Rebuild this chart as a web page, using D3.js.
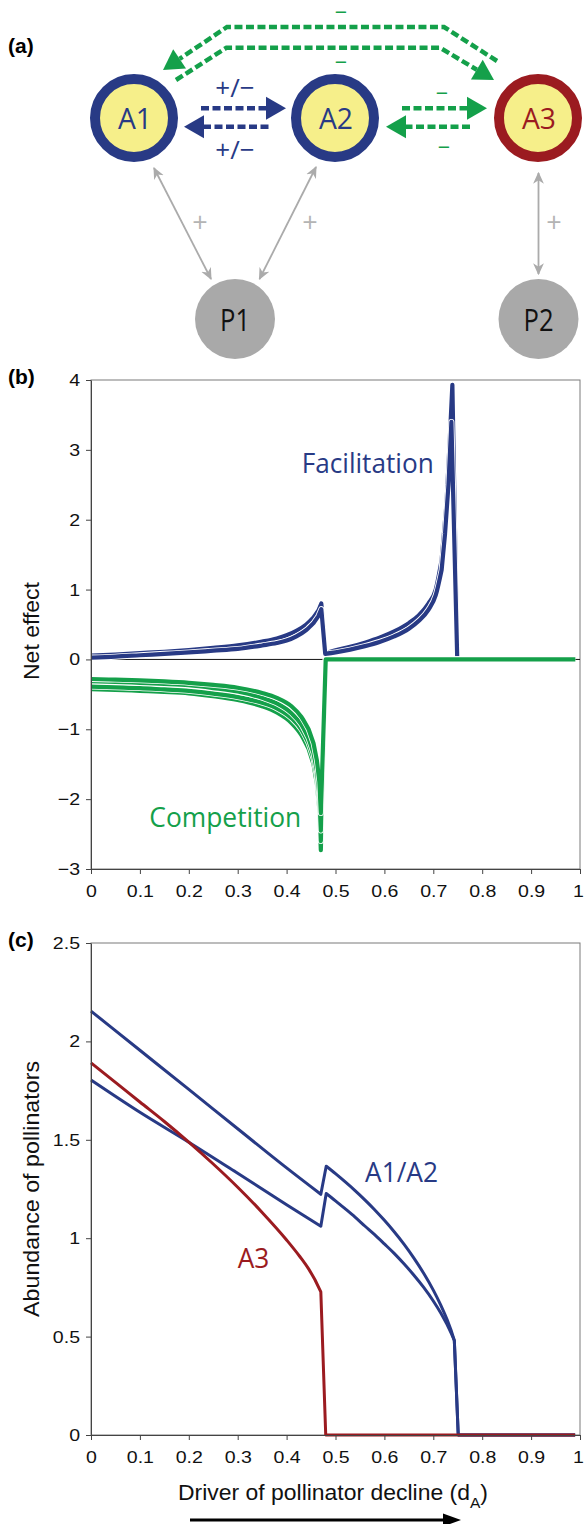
<!DOCTYPE html>
<html>
<head>
<meta charset="utf-8">
<script src="https://cdn.jsdelivr.net/npm/d3@7"></script>
<style>
  body { margin: 0; background: #fff; }
  svg { display: block; }
</style>
</head>
<body>
<svg id="chart" width="584" height="1524"></svg>
<script>
// ---- Data ----
const xTickValues = [0, 0.1, 0.2, 0.3, 0.4, 0.5, 0.6, 0.7, 0.8, 0.9, 1];
const netTickValues = [-3, -2, -1, 0, 1, 2, 3, 4];
const abundanceTickValues = [0, 0.5, 1, 1.5, 2, 2.5];

// (b) facilitation, two curves [dA, net effect]
const facilitationUpper = [[0,0.056],[0.05,0.07],[0.1,0.09],[0.15,0.11],[0.2,0.135],[0.25,0.165],[0.3,0.2],[0.35,0.255],[0.38,0.3],[0.4,0.345],[0.42,0.41],[0.44,0.5],[0.455,0.6],[0.465,0.7],[0.471,0.8],[0.479,0.09],[0.5,0.13],[0.53,0.18],[0.56,0.24],[0.59,0.31],[0.62,0.4],[0.65,0.52],[0.67,0.63],[0.69,0.8],[0.705,1.0],[0.717,1.42],[0.727,2.23],[0.734,3.19],[0.739,3.93],[0.749,0]];
const facilitationLower = [[0,0.027],[0.05,0.04],[0.1,0.06],[0.15,0.08],[0.2,0.1],[0.25,0.125],[0.3,0.15],[0.35,0.2],[0.38,0.235],[0.4,0.27],[0.42,0.33],[0.44,0.42],[0.455,0.52],[0.465,0.62],[0.471,0.72],[0.479,0.08],[0.5,0.1],[0.53,0.14],[0.56,0.19],[0.59,0.25],[0.62,0.33],[0.65,0.44],[0.67,0.55],[0.69,0.71],[0.705,0.92],[0.717,1.28],[0.724,1.8],[0.731,2.5],[0.737,3.4],[0.749,0]];

// (b) competition, four curves
const competition1 = [[0,-0.28],[0.05,-0.29],[0.1,-0.3],[0.15,-0.315],[0.2,-0.335],[0.25,-0.365],[0.3,-0.405],[0.35,-0.48],[0.38,-0.55],[0.41,-0.67],[0.43,-0.82],[0.445,-1.0],[0.455,-1.2],[0.462,-1.45],[0.467,-1.75],[0.47,-2.2],[0.48,0],[0.99,0]];
const competition2 = [[0,-0.31],[0.05,-0.32],[0.1,-0.335],[0.15,-0.35],[0.2,-0.37],[0.25,-0.41],[0.3,-0.46],[0.35,-0.55],[0.38,-0.63],[0.41,-0.77],[0.43,-0.93],[0.445,-1.13],[0.455,-1.34],[0.462,-1.6],[0.467,-1.95],[0.47,-2.45],[0.48,0],[0.99,0]];
const competition3 = [[0,-0.39],[0.05,-0.4],[0.1,-0.41],[0.15,-0.43],[0.2,-0.45],[0.25,-0.49],[0.3,-0.54],[0.35,-0.62],[0.38,-0.7],[0.41,-0.84],[0.43,-1.0],[0.445,-1.2],[0.455,-1.42],[0.462,-1.68],[0.467,-2.05],[0.47,-2.6],[0.48,0],[0.99,0]];
const competition4 = [[0,-0.425],[0.05,-0.435],[0.1,-0.45],[0.15,-0.465],[0.2,-0.485],[0.25,-0.525],[0.3,-0.58],[0.35,-0.67],[0.38,-0.76],[0.41,-0.91],[0.43,-1.08],[0.445,-1.28],[0.455,-1.5],[0.462,-1.78],[0.467,-2.15],[0.47,-2.73],[0.48,0],[0.99,0]];

// (c) pollinator abundance
const abundanceA1 = [[0,2.154],[0.1,1.955],[0.2,1.756],[0.3,1.556],[0.4,1.357],[0.47,1.223],[0.481,1.366],[0.5,1.328],[0.52,1.286],[0.54,1.242],[0.56,1.195],[0.58,1.145],[0.6,1.091],[0.62,1.033],[0.64,0.97],[0.66,0.9],[0.68,0.823],[0.7,0.736],[0.715,0.661],[0.728,0.588],[0.737,0.528],[0.743,0.48],[0.751,0],[0.99,0]];
const abundanceA2 = [[0,1.804],[0.1,1.64],[0.2,1.488],[0.3,1.33],[0.4,1.17],[0.47,1.061],[0.481,1.227],[0.5,1.19],[0.52,1.149],[0.54,1.107],[0.56,1.062],[0.58,1.018],[0.6,0.971],[0.62,0.923],[0.64,0.87],[0.66,0.813],[0.68,0.751],[0.7,0.681],[0.715,0.621],[0.728,0.562],[0.737,0.515],[0.743,0.48],[0.751,0],[0.99,0]];
const abundanceA3 = [[0,1.891],[0.05,1.792],[0.1,1.692],[0.15,1.593],[0.2,1.488],[0.25,1.377],[0.3,1.259],[0.35,1.131],[0.4,0.991],[0.427,0.907],[0.445,0.844],[0.458,0.789],[0.47,0.727],[0.48,0],[0.99,0]];

// ---- Styles ----
const BLUE = '#283a85', GREEN = '#14a04a', RED = '#9b1b20', GREY = '#ababab', YELLOW = '#f6ef8a';
const sans = '"Liberation Sans", Arial, Helvetica, sans-serif';
const myriad = '"Open Sans", "Noto Sans", sans-serif';
const svg = d3.select('#chart');

// ---- Panel (a): interaction diagram ----
const diag = svg.append('g');

const defs = svg.append('defs');
defs.append('marker')
  .attr('id', 'greyHead')
  .attr('viewBox', '0 0 10 10')
  .attr('refX', 9).attr('refY', 5)
  .attr('markerWidth', 12).attr('markerHeight', 12)
  .attr('markerUnits', 'userSpaceOnUse')
  .attr('orient', 'auto-start-reverse')
  .append('path').attr('d', 'M0,0.5 L10,5 L0,9.5 L3,5 Z').attr('fill', GREY);

function dashedArrow(g, pts, color) {
  const n = pts.length, tip = pts[n - 1], prev = pts[n - 2];
  const dx = tip[0] - prev[0], dy = tip[1] - prev[1], len = Math.hypot(dx, dy);
  const ux = dx / len, uy = dy / len, hl = 20, hw = 11.5;
  const base = [tip[0] - ux * hl, tip[1] - uy * hl];
  g.append('path')
    .attr('d', d3.line()(pts.slice(0, n - 1).concat([base])))
    .attr('fill', 'none').attr('stroke', color)
    .attr('stroke-width', 4.5).attr('stroke-dasharray', '8,3.5');
  g.append('path')
    .attr('d', d3.line()([tip, [base[0] - uy * hw, base[1] + ux * hw], [base[0] + uy * hw, base[1] - ux * hw]]) + 'Z')
    .attr('fill', color);
}

// green long arrows between A1 and A3
dashedArrow(diag, [[497, 61], [444, 27], [227, 27], [163, 70]], GREEN);
dashedArrow(diag, [[176, 80], [226.5, 47.7], [440, 47.7], [494, 80]], GREEN);
// A1 <-> A2
dashedArrow(diag, [[201, 108.3], [286, 108.3]], BLUE);
dashedArrow(diag, [[268.5, 126.7], [184, 126.7]], BLUE);
// A2 <-> A3
dashedArrow(diag, [[402, 108.3], [487, 108.3]], GREEN);
dashedArrow(diag, [[470, 126.7], [386, 126.7]], GREEN);

// grey mutualism links
const links = [[[154, 168], [211, 279]], [[316, 167], [259.5, 279]], [[538.5, 173], [538.5, 274]]];
links.forEach(l => {
  diag.append('line')
    .attr('x1', l[0][0]).attr('y1', l[0][1]).attr('x2', l[1][0]).attr('y2', l[1][1])
    .attr('stroke', GREY).attr('stroke-width', 1.8)
    .attr('marker-start', 'url(#greyHead)').attr('marker-end', 'url(#greyHead)');
});

const animals = [
  { id: 'A1', x: 134, y: 118, color: BLUE },
  { id: 'A2', x: 335, y: 118, color: BLUE },
  { id: 'A3', x: 538, y: 118, color: RED }
];
animals.forEach(d => {
  diag.append('circle').attr('cx', d.x).attr('cy', d.y).attr('r', 39)
    .attr('fill', YELLOW).attr('stroke', d.color).attr('stroke-width', 10);
  diag.append('text').attr('x', d.x + 1).attr('y', d.y + 10.5)
    .attr('text-anchor', 'middle').attr('font-family', myriad).attr('font-size', 29)
    .attr('textLength', 34).attr('lengthAdjust', 'spacingAndGlyphs')
    .attr('fill', d.color).text(d.id);
});
const plants = [{ id: 'P1', x: 235, y: 319 }, { id: 'P2', x: 538.5, y: 319 }];
plants.forEach(d => {
  diag.append('circle').attr('cx', d.x).attr('cy', d.y).attr('r', 40).attr('fill', '#a9a9a9');
  diag.append('text').attr('x', d.x).attr('y', d.y + 11.5)
    .attr('text-anchor', 'middle').attr('font-family', myriad).attr('font-size', 31)
    .attr('textLength', 30).attr('lengthAdjust', 'spacingAndGlyphs')
    .attr('fill', '#111').text(d.id);
});

function sign(x, y, txt, color, size, font) {
  diag.append('text').attr('x', x).attr('y', y).attr('text-anchor', 'middle')
    .attr('font-family', font || myriad).attr('font-size', size).attr('fill', color).text(txt);
}
sign(341, 18.5, '\u2212', GREEN, 21, sans);
sign(341, 69, '\u2212', GREEN, 21, sans);
sign(442, 99.5, '\u2212', GREEN, 21, sans);
sign(444, 153.5, '\u2212', GREEN, 21, sans);
sign(235, 97, '+/\u2212', BLUE, 26);
sign(235, 159, '+/\u2212', BLUE, 26);
sign(200, 232, '+', '#b4b4b4', 27);
sign(310, 232, '+', '#b4b4b4', 27);
sign(554, 232, '+', '#b4b4b4', 27);

// panel letters
[['(a)', 52.5], ['(b)', 384], ['(c)', 946.5]].forEach(p => {
  svg.append('text').attr('x', 8).attr('y', p[1]).attr('font-family', sans)
    .attr('font-weight', 'bold').attr('font-size', 21).text(p[0]);
});

// ---- shared axis helpers ----
const x = d3.scaleLinear().domain([0, 1]).range([91, 580]);
const STRETCH = 1.15;
const tickFmt = d => String(d).replace('-', '\u2212');

// smooth runs with monotone curve, keep the sharp jumps straight
function smoothPath(data, sx, sy) {
  const mono = d3.line().x(d => sx(d[0])).y(d => sy(d[1])).curve(d3.curveMonotoneX);
  let path = `M${sx(data[0][0])},${sy(data[0][1])}`;
  let run = [data[0]];
  for (let i = 1; i < data.length; i++) {
    if (data[i][0] - data[i - 1][0] < 0.012) {
      if (run.length > 1) path += mono(run).replace(/^M[^LC]*/, '');
      path += `L${sx(data[i][0])},${sy(data[i][1])}`;
      run = [data[i]];
    } else {
      run.push(data[i]);
    }
  }
  if (run.length > 1) path += mono(run).replace(/^M[^LC]*/, '');
  return path;
}

function frame(y0, y1) {
  svg.append('rect').attr('x', 91).attr('y', y0).attr('width', 489).attr('height', y1 - y0)
    .attr('fill', 'none').attr('stroke', '#7a7a7a').attr('stroke-width', 1);
}
function styleAxis(g) {
  g.select('.domain').attr('stroke', '#444');
  g.selectAll('.tick line').attr('stroke', '#444');
  g.selectAll('text').attr('font-family', sans).attr('font-size', 17).attr('fill', '#111')
    .attr('transform', `scale(${STRETCH},1)`);
}
function xAxis(yPix) {
  const g = svg.append('g').attr('transform', `translate(0,${yPix})`)
    .call(d3.axisBottom(x).tickValues(xTickValues).tickSize(5).tickSizeOuter(0).tickFormat(tickFmt));
  styleAxis(g);
  g.selectAll('text').attr('y', 28).attr('dy', 0)
    .attr('x', d => d === 1 ? -2 / STRETCH : 0);
}
function yAxis(scale, ticks) {
  const g = svg.append('g').attr('transform', 'translate(91,0)')
    .call(d3.axisLeft(scale).tickValues(ticks).tickSize(5).tickSizeOuter(0).tickFormat(tickFmt));
  styleAxis(g);
  g.selectAll('text').attr('x', -11 / STRETCH);
}
function yTitle(txt, cy, len) {
  svg.append('text').attr('transform', `translate(38.5,${cy}) rotate(-90)`)
    .attr('text-anchor', 'middle').attr('font-family', sans).attr('font-size', 22)
    .attr('textLength', len).attr('lengthAdjust', 'spacingAndGlyphs').attr('fill', '#111').text(txt);
}
function curveLabel(txt, x0, y0, len, color) {
  svg.append('text').attr('x', x0).attr('y', y0).attr('font-family', myriad).attr('font-size', 27)
    .attr('textLength', len).attr('lengthAdjust', 'spacingAndGlyphs').attr('fill', color).text(txt);
}

// ---- Panel (b): net effect ----
const yNet = d3.scaleLinear().domain([-3, 4]).range([869, 380]);
frame(380, 869);
svg.append('line').attr('x1', x(0)).attr('x2', x(1)).attr('y1', yNet(0)).attr('y2', yNet(0))
  .attr('stroke', '#111').attr('stroke-width', 1);

[facilitationUpper, facilitationLower].forEach(s => {
  svg.append('path').attr('d', smoothPath(s, x, yNet)).attr('fill', 'none').attr('stroke', '#fff')
    .attr('stroke-width', 6).attr('stroke-linejoin', 'round');
  svg.append('path').attr('d', smoothPath(s, x, yNet)).attr('fill', 'none').attr('stroke', BLUE)
    .attr('stroke-width', 4.2).attr('stroke-linejoin', 'round');
});
[competition4, competition3, competition2, competition1].forEach(s => {
  svg.append('path').attr('d', smoothPath(s, x, yNet)).attr('fill', 'none').attr('stroke', '#fff')
    .attr('stroke-width', 5.8).attr('stroke-linejoin', 'round');
  svg.append('path').attr('d', smoothPath(s, x, yNet)).attr('fill', 'none').attr('stroke', GREEN)
    .attr('stroke-width', 4.2).attr('stroke-linejoin', 'round');
});

xAxis(869);
yAxis(yNet, netTickValues);
yTitle('Net effect', 631, 98);
curveLabel('Facilitation', 301.7, 472.7, 132, BLUE);
curveLabel('Competition', 149.3, 826.7, 152, GREEN);

// ---- Panel (c): abundance of pollinators ----
const yAb = d3.scaleLinear().domain([0, 2.5]).range([1435, 943]);
frame(943, 1435);
[[abundanceA1, BLUE], [abundanceA2, BLUE], [abundanceA3, RED]].forEach(s => {
  svg.append('path').attr('d', smoothPath(s[0], x, yAb)).attr('fill', 'none').attr('stroke', s[1])
    .attr('stroke-width', 3).attr('stroke-linejoin', 'round');
});
xAxis(1435);
yAxis(yAb, abundanceTickValues);
yTitle('Abundance of pollinators', 1189, 256);
curveLabel('A1/A2', 365, 1181.7, 73, BLUE);
curveLabel('A3', 237.7, 1268, 31.6, RED);

// x title with subscript
const xt = svg.append('text').attr('x', 178).attr('y', 1500).attr('font-family', sans)
  .attr('font-size', 22).attr('fill', '#111')
  .attr('textLength', 310).attr('lengthAdjust', 'spacingAndGlyphs');
xt.append('tspan').text('Driver of pollinator decline (d');
xt.append('tspan').attr('font-size', 15).attr('dy', 8).text('A');
xt.append('tspan').attr('dy', -8).text(')');

// arrow under the x title
svg.append('line').attr('x1', 190).attr('x2', 446).attr('y1', 1520).attr('y2', 1520)
  .attr('stroke', '#000').attr('stroke-width', 3);
svg.append('path').attr('d', 'M461,1520 L443,1513.5 L443,1526.5 Z').attr('fill', '#000');
</script>
</body>
</html>
